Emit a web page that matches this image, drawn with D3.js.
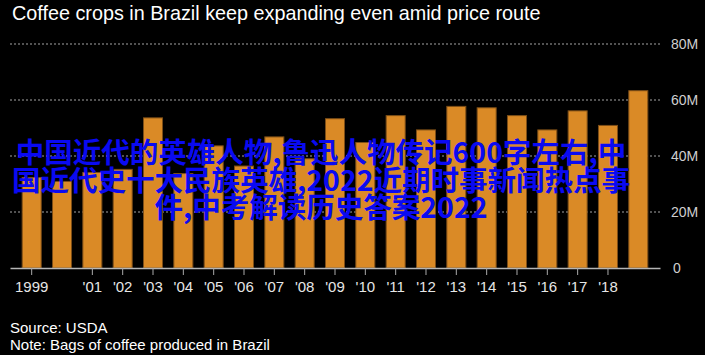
<!DOCTYPE html>
<html>
<head>
<meta charset="utf-8">
<script src="https://cdn.jsdelivr.net/npm/d3@7"></script>
<style>
  html, body { margin: 0; padding: 0; background: #000; }
  svg { display: block; }
</style>
</head>
<body>
<svg id="chart" width="705" height="355"></svg>
<script>
const years = [1999, 2000, 2001, 2002, 2003, 2004, 2005, 2006, 2007, 2008, 2009,
               2010, 2011, 2012, 2013, 2014, 2015, 2016, 2017, 2018, 2019];
const bags = [32.5, 31.1, 34.3, 35.4, 53.8, 33.9, 43.8, 36.6, 47.0, 39.2, 53.5,
              45.0, 54.6, 49.5, 57.9, 57.4, 54.6, 49.5, 56.3, 51.1, 63.5];
const xTickLabels = ["1999", "", "'01", "'02", "'03", "'04", "'05", "'06", "'07", "'08", "'09",
                     "'10", "'11", "'12", "'13", "'14", "'15", "'16", "'17", "'18", ""];
const yTicks = [0, 20, 40, 60, 80];
const yTickLabels = ["0", "20M", "40M", "60M", "80M"];
const titleText = "Coffee crops in Brazil keep expanding even amid price route";
const sourceText = "Source: USDA";
const noteText = "Note: Bags of coffee produced in Brazil";
const overlayLines = [
  "中国近代的英雄人物,鲁迅人物传记600字左右,中",
  "国近代史十大民族英雄,2022近期时事新闻热点事",
  "件,中考解读历史答案2022"
];

const svg = d3.select("#chart");
const sans = "Liberation Sans, Arial, Helvetica, sans-serif";

svg.append("rect").attr("width", 705).attr("height", 355).attr("fill", "#000");

const x = d3.scaleBand().domain(years).range([10, 660]).paddingInner(0.34).paddingOuter(0.385);
const y = d3.scaleLinear().domain([0, 80]).range([268, 44]);

// title
svg.append("text").attr("x", 12).attr("y", 20)
  .attr("font-family", sans).attr("font-size", 19.8).attr("fill", "#fff")
  .text(titleText);

// gridlines
svg.append("g").selectAll("line").data(yTicks.filter(d => d > 0)).join("line")
  .attr("x1", 10).attr("x2", 660)
  .attr("y1", d => y(d)).attr("y2", d => y(d))
  .attr("stroke", "#6e6e6e").attr("stroke-width", 1.3)
  .attr("stroke-dasharray", "2,2");

// bars
svg.append("g").selectAll("rect").data(years).join("rect")
  .attr("x", d => x(d) + 0.5)
  .attr("width", x.bandwidth() - 1)
  .attr("y", (d, i) => y(bags[i]) + 0.5)
  .attr("height", (d, i) => y(0) - y(bags[i]) - 0.5)
  .attr("fill", "#da8a26")
  .attr("stroke", "#7d4e17")
  .attr("stroke-width", 1);

// x axis
const xAxis = d3.axisBottom(x)
  .tickValues(years.filter((d, i) => xTickLabels[i] !== ""))
  .tickFormat(d => xTickLabels[years.indexOf(d)])
  .tickSize(7).tickSizeOuter(0).tickPadding(6);
const gx = svg.append("g").attr("transform", `translate(0,${y(0)})`).call(xAxis);
gx.select(".domain").attr("stroke", "#b5b5b5").attr("stroke-width", 1.5);
gx.selectAll(".tick line").attr("stroke", "#aaa");
gx.selectAll(".tick text").attr("font-family", sans).attr("font-size", 15).attr("fill", "#e6e6e6");

// y axis on right
const yAxis = d3.axisRight(y).tickValues(yTicks)
  .tickFormat((d, i) => yTickLabels[i]).tickSize(0).tickPadding(0);
const gy = svg.append("g").attr("transform", "translate(671,0)").call(yAxis);
gy.select(".domain").remove();
gy.selectAll(".tick text").attr("font-family", sans).attr("font-size", 14).attr("fill", "#cfcfcf")
  .attr("x", (d) => d === 0 ? 2 : 0);

// footer
svg.append("text").attr("x", 10).attr("y", 333)
  .attr("font-family", sans).attr("font-size", 15).attr("fill", "#fff").text(sourceText);
svg.append("text").attr("x", 10).attr("y", 350)
  .attr("font-family", sans).attr("font-size", 15).attr("fill", "#fff").text(noteText);

// overlay text
svg.append("g").selectAll("text").data(overlayLines).join("text")
  .attr("x", 321).attr("y", (d, i) => 163 + i * 27.5)
  .attr("text-anchor", "middle")
  .attr("font-family", "Noto Sans CJK SC, sans-serif")
  .attr("font-weight", "bold")
  .attr("font-size", 28.5)
  .attr("fill", "#0a0af2")
  .text(d => d);
</script>
</body>
</html>
